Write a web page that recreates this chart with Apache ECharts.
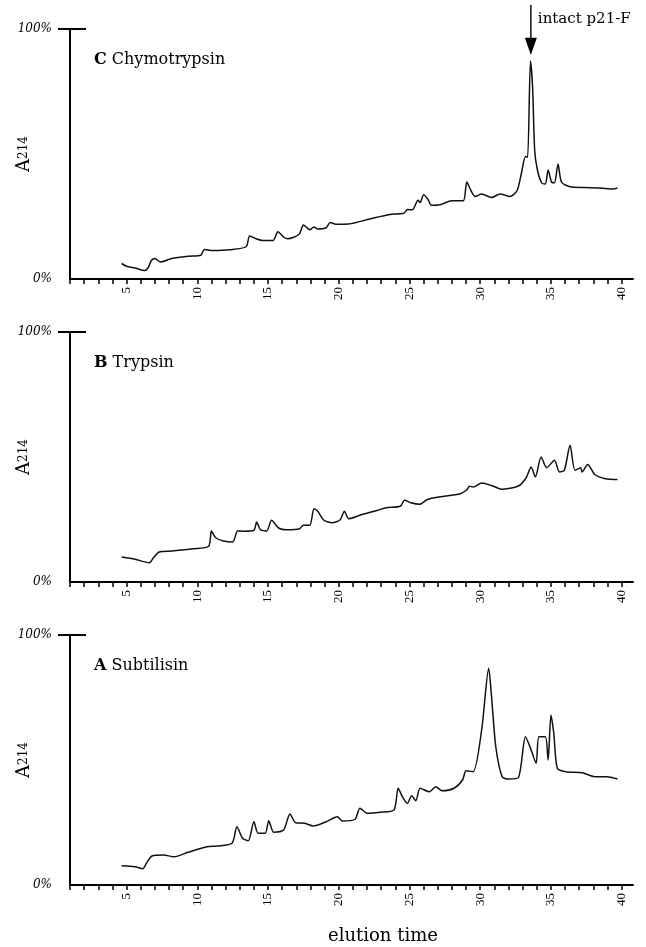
<!DOCTYPE html>
<html>
<head>
<meta charset="utf-8">
<script src="https://cdn.jsdelivr.net/npm/echarts@6/dist/echarts.min.js"></script>
<style>html,body{margin:0;padding:0;background:#fff}#c{width:646px;height:947px}</style>
</head>
<body>
<div id="c"></div>
<script>
// ---- data (elution time in min, A214 in % of full scale) ----
const panelLetters = ['C', 'B', 'A'];
const panelNames = ['Chymotrypsin', 'Trypsin', 'Subtilisin'];

const chymotrypsin = [
  [4.65,6.2],[5.0,5.1],[5.6,4.4],[6.3,3.4],[6.55,4.8],[6.75,7.4],[7.0,8.2],[7.4,6.8],[8.2,8.2],[9.4,9.1],
  [10.25,9.5],[10.5,11.8],[11.1,11.4],[12.3,11.7],[13.45,12.9],[13.7,17.2],[14.2,16.0],[14.6,15.4],
  [15.35,15.4],[15.7,18.9],[16.1,16.8],[16.4,16.1],[17.2,17.9],[17.5,21.6],[17.95,19.7],[18.25,20.8],
  [18.5,20.0],[19.1,20.5],[19.4,22.6],[19.8,21.9],[20.7,22.0],[22.2,24.0],[23.6,25.8],[24.6,26.3],
  [24.85,27.8],[25.2,27.7],[25.6,31.5],[25.75,30.6],[26.0,33.7],[26.3,31.9],[26.55,29.5],[27.15,29.7],
  [28.0,31.3],[28.8,31.3],[29.05,38.8],[29.35,35.3],[29.65,33.0],[30.1,34.0],[30.8,32.6],[31.4,34.0],
  [32.1,33.0],[32.6,35.3],[32.9,42.0],[33.2,49.0],[33.35,48.7],[33.55,87.2],[33.7,76.9],[33.85,51.4],
  [34.05,43.4],[34.35,38.4],[34.6,38.0],[34.8,43.6],[35.05,38.7],[35.25,38.5],[35.5,46.0],[35.75,38.7],
  [36.35,36.9],[37.35,36.6],[38.5,36.4],[39.4,36.0],[39.7,36.4]
];

const trypsin = [
  [4.65,10.0],[5.6,9.1],[6.6,7.7],[6.9,9.7],[7.3,12.0],[8.2,12.4],[9.7,13.3],[10.8,14.3],[11.0,20.4],
  [11.3,17.7],[11.85,16.4],[12.5,16.0],[12.85,20.4],[13.3,20.3],[14.0,20.7],[14.2,24.0],[14.45,21.0],
  [14.9,20.4],[15.25,24.7],[15.75,21.6],[16.3,20.9],[17.2,21.2],[17.5,22.7],[17.95,22.7],[18.25,29.3],
  [18.5,28.4],[18.95,24.7],[19.55,23.7],[20.1,24.9],[20.4,28.3],[20.7,25.3],[21.6,26.9],[22.75,28.7],
  [23.35,29.7],[24.35,30.3],[24.65,32.7],[25.1,31.7],[25.7,31.1],[26.3,33.1],[27.45,34.3],[28.6,35.3],
  [29.05,36.9],[29.25,38.3],[29.5,38.0],[30.1,39.6],[30.9,38.4],[31.5,37.1],[32.7,38.4],[33.25,41.7],
  [33.6,46.0],[33.9,42.0],[34.3,50.0],[34.7,45.7],[35.25,48.7],[35.6,44.0],[35.95,44.7],[36.35,54.7],
  [36.7,44.7],[37.1,45.7],[37.2,44.0],[37.6,47.0],[38.1,43.0],[38.85,41.3],[39.7,41.0]
];

const subtilisin = [
  [4.65,7.7],[5.6,7.3],[6.15,6.5],[6.4,8.7],[6.8,11.6],[7.6,12.0],[8.35,11.3],[9.35,13.1],[10.7,15.3],
  [11.4,15.6],[12.45,16.7],[12.8,23.3],[13.2,18.7],[13.6,17.7],[14.0,25.3],[14.3,20.7],[14.8,20.7],
  [15.05,25.7],[15.4,21.1],[16.1,22.0],[16.55,28.4],[16.95,24.9],[17.6,24.7],[18.2,23.6],[19.1,25.3],
  [19.9,27.3],[20.25,25.6],[21.15,26.3],[21.5,30.7],[22.0,28.7],[22.9,29.1],[23.9,30.0],[24.2,38.7],
  [24.5,35.3],[24.85,32.7],[25.15,35.7],[25.45,33.7],[25.75,38.7],[26.4,37.3],[26.85,39.3],[27.3,37.7],
  [28.15,38.7],[28.75,42.0],[29.0,45.7],[29.5,45.3],[30.1,62.0],[30.6,86.7],[30.8,75.3],[31.1,55.3],
  [31.55,43.3],[32.0,42.4],[32.7,43.0],[33.2,59.3],[33.6,54.0],[33.95,48.7],[34.15,59.3],[34.6,59.3],
  [34.8,50.0],[35.0,68.0],[35.2,60.7],[35.45,46.7],[36.05,45.3],[37.2,44.9],[38.1,43.3],[38.95,43.3],
  [39.7,42.4]
];

const panelSeries = [chymotrypsin, trypsin, subtilisin];
const xTickValues = [1,2,3,4,5,6,7,8,9,10,11,12,13,14,15,16,17,18,19,20,21,22,23,24,25,26,27,28,29,30,31,32,33,34,35,36,37,38,39,40];
const xLabelValues = [5,10,15,20,25,30,35,40];
const yLabelValues = [0,100];
const yTopTick = [100];
const annotation = { label: 'intact p21-F', x: 33.58, y: 87.2 };

// ---- layout ----
const SERIF = 'DejaVu Serif';
const TNR = 'Liberation Serif';
const gridTops = [29, 332, 635];
const GRID_H = 250;

const grids = [], xAxes = [], yAxes = [], series = [], titles = [];
panelSeries.forEach((data, k) => {
  grids.push({ left: 70, top: gridTops[k], width: 563, height: GRID_H, containLabel: false, outerBoundsMode: 'none' });
  xAxes.push({
    type: 'value', gridIndex: k, min: 1, max: 40.8,
    axisLine: { show: true, onZero: false, lineStyle: { color: '#000', width: 2 } },
    axisTick: { show: true, customValues: xTickValues, length: 5, lineStyle: { color: '#000', width: 1.5 } },
    axisLabel: { show: true, customValues: xLabelValues, rotate: 90, margin: 8,
      fontFamily: TNR, fontSize: 13, color: '#000' },
    splitLine: { show: false }
  });
  yAxes.push({
    type: 'value', gridIndex: k, min: 0, max: 100, position: 'left',
    name: 'A{s|214}', nameLocation: 'middle', nameRotate: 90, nameGap: 37, nameMoveOverlap: false,
    nameTextStyle: { fontFamily: SERIF, fontSize: 18, color: '#000',
      rich: { s: { fontFamily: SERIF, fontSize: 12, color: '#000' } } },
    axisLine: { show: true, lineStyle: { color: '#000', width: 2 } },
    axisTick: { show: true, customValues: yTopTick, length: 12, lineStyle: { color: '#000', width: 2 } },
    axisLabel: { show: true, customValues: yLabelValues, margin: 18, formatter: '{value}%',
      fontFamily: SERIF, fontStyle: 'italic', fontSize: 12, color: '#000' },
    splitLine: { show: false }
  });
  yAxes.push({
    type: 'value', gridIndex: k, min: 0, max: 100, position: 'left', offset: 0,
    axisLine: { show: false },
    axisTick: { show: true, inside: true, customValues: yTopTick, length: 16, lineStyle: { color: '#000', width: 2 } },
    axisLabel: { show: false }, splitLine: { show: false }
  });
  const s = {
    type: 'line', xAxisIndex: k, yAxisIndex: 2 * k, data: data,
    showSymbol: false, symbol: 'none', clip: false, smooth: 0.25,
    lineStyle: { color: '#111', width: 1.5 }
  };
  if (k === 0) {
    s.markPoint = {
      silent: true,
      data: [{
        coord: [annotation.x, annotation.y],
        symbol: 'path://M5.3,0 L6.7,0 L6.7,34 L12,34 L6,52 L0,34 L5.3,34 Z',
        symbolSize: [12, 50], symbolOffset: [0, -31],
        itemStyle: { color: '#000' },
        label: { show: true, formatter: annotation.label, position: [13, 14], align: 'left',
          verticalAlign: 'middle', fontFamily: SERIF, fontSize: 15, color: '#000' }
      }]
    };
  }
  series.push(s);
  titles.push({
    text: '{b|' + panelLetters[k] + '} ' + panelNames[k],
    left: 94, top: gridTops[k] + 23, padding: 0,
    textStyle: { fontFamily: SERIF, fontSize: 16, fontWeight: 'normal', color: '#000',
      rich: { b: { fontFamily: SERIF, fontSize: 16, fontWeight: 'bold', color: '#000' } } }
  });
});
titles.push({
  text: 'elution time', left: 328, top: 927, padding: 0,
  textStyle: { fontFamily: SERIF, fontSize: 18, fontWeight: 'normal', color: '#000' }
});

const chart = echarts.init(document.getElementById('c'), null, { renderer: 'canvas' });
chart.setOption({
  animation: false,
  backgroundColor: '#fff',
  title: titles,
  grid: grids,
  xAxis: xAxes,
  yAxis: yAxes,
  series: series
});
</script>
</body>
</html>
